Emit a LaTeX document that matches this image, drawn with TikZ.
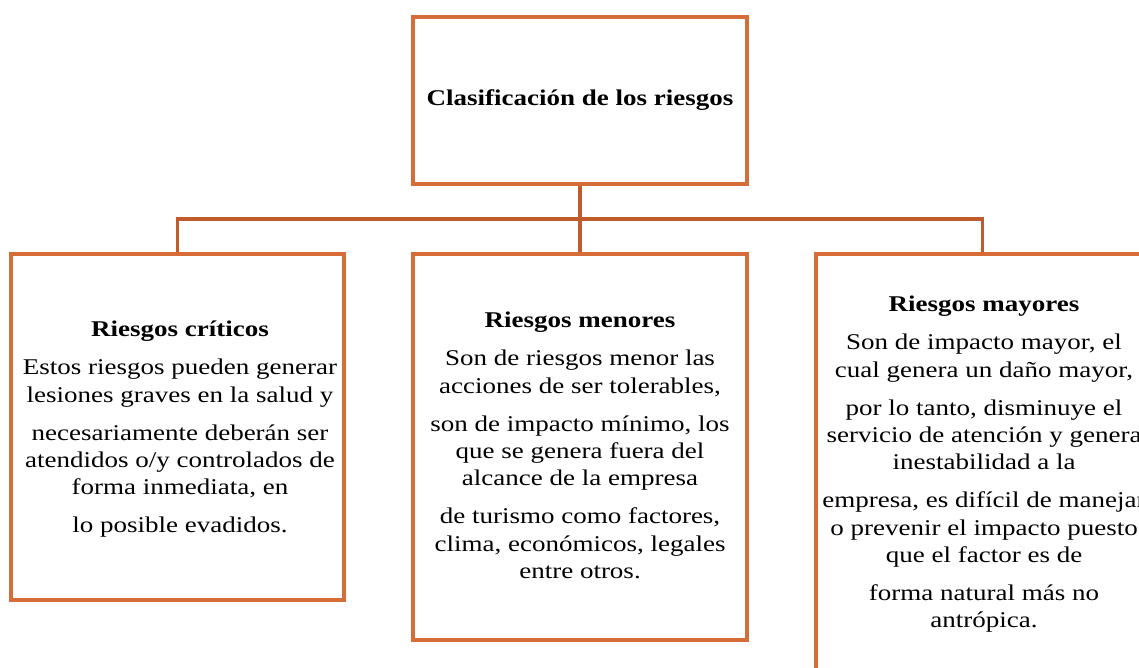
\documentclass[tikz,border=0pt]{standalone}
\usepackage{fontspec}
\setmainfont{Liberation Serif}[FakeStretch=1.2]
\definecolor{boxorange}{RGB}{214,108,56}
\definecolor{lineorange}{RGB}{192,92,44}
\newcommand{\rktext}[1]{\fontsize{22.5}{27.3}\selectfont\setlength\tabcolsep{0pt}\renewcommand\arraystretch{1}\begin{tabular}[t]{c}#1\end{tabular}}
\tikzset{
  riskbox/.style={draw=boxorange, line width=3.2pt, inner sep=0pt, rectangle},
  risktext/.style={anchor=base, inner sep=0pt, text=black},
  linkline/.style={draw=lineorange, line width=3.2pt}
}
\begin{document}
\begin{tikzpicture}[x=1pt,y=1pt]
\useasboundingbox (0,0) rectangle (1139,667);
% boxes
\node[riskbox, minimum width=334pt, minimum height=167pt, font=\fontsize{22.5}{27.3}\selectfont\bfseries] (top) at (580,566.5) {Clasificación de los riesgos};
\node[riskbox, minimum width=333pt, minimum height=346pt] (crit) at (177.5,240) {};
\node[riskbox, minimum width=334pt, minimum height=386pt] (menor) at (580,220) {};
\node[riskbox, minimum width=333pt, minimum height=466pt] (mayor) at (982.5,180) {};
% connectors
\coordinate (bar) at (580,448);
\draw[linkline] (top.south) -- (menor.north);
\draw[linkline] (crit.north) |- (bar) -| (mayor.north);
% texts
\node[risktext] (tcrit) at (180,330) {\rktext{\textbf{Riesgos críticos}\\[10.7pt]
Estos riesgos pueden generar\\
lesiones graves en la salud y\\[10.7pt]
necesariamente deberán ser\\
atendidos o/y controlados de\\
forma inmediata, en\\[10.7pt]
lo posible evadidos.}};
\node[risktext] (tmenor) at (580,339) {\rktext{\textbf{Riesgos menores}\\[10.7pt]
Son de riesgos menor las\\
acciones de ser tolerables,\\[10.7pt]
son de impacto mínimo, los\\
que se genera fuera del\\
alcance de la empresa\\[10.7pt]
de turismo como factores,\\
clima, económicos, legales\\
entre otros.}};
\node[risktext] (tmayor) at (984,355) {\rktext{\textbf{Riesgos mayores}\\[10.7pt]
Son de impacto mayor, el\\
cual genera un daño mayor,\\[10.7pt]
por lo tanto, disminuye el\\
servicio de atención y genera\\
inestabilidad a la\\[10.7pt]
empresa, es difícil de manejar\\
o prevenir el impacto puesto\\
que el factor es de\\[10.7pt]
forma natural más no\\
antrópica.}};
\end{tikzpicture}
\end{document}
